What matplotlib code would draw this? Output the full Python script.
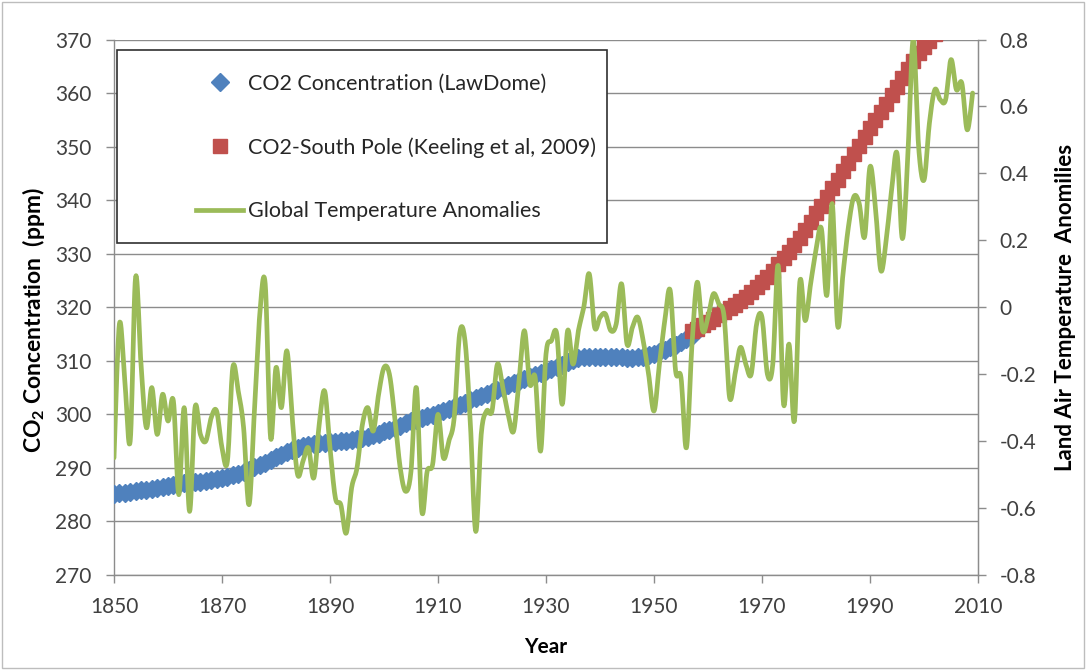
import numpy as np
import matplotlib
matplotlib.use("Agg")
import matplotlib.pyplot as plt
from matplotlib.lines import Line2D
from matplotlib.patches import Rectangle

plt.rcParams["font.family"] = ["Lato", "DejaVu Sans"]
plt.rcParams["mathtext.fontset"] = "custom"
plt.rcParams["mathtext.rm"] = "Lato"
plt.rcParams["mathtext.bf"] = "Lato:bold"

# ---- data ---------------------------------------------------------------
# Law Dome ice-core CO2 (ppm), annual 1850-1957
law_years = list(range(1850, 1958))
law_co2 = [
    285.2, 285.3, 285.4, 285.5, 285.6, 285.8, 285.9, 286.1, 286.3, 286.5,
    286.7, 286.8, 287.0, 287.1, 287.2, 287.3, 287.4, 287.5, 287.7, 287.9,
    288.1, 288.3, 288.6, 288.9, 289.3, 289.7, 290.1, 290.5, 291.0, 291.5,
    292.0, 292.5, 293.0, 293.4, 293.8, 294.1, 294.3, 294.5, 294.6, 294.7,
    294.8, 294.9, 295.0, 295.1, 295.2, 295.4, 295.6, 295.8, 296.1, 296.4,
    296.8, 297.1, 297.5, 297.9, 298.3, 298.7, 299.0, 299.3, 299.6, 299.9,
    300.2, 300.6, 301.0, 301.4, 301.8, 302.2, 302.6, 303.0, 303.4, 303.8,
    304.2, 304.6, 305.0, 305.4, 305.8, 306.2, 306.6, 307.0, 307.4, 307.8,
    308.1, 308.5, 308.9, 309.3, 309.7, 310.1, 310.5, 310.7, 310.8, 310.8,
    310.8, 310.8, 310.7, 310.7, 310.7, 310.6, 310.6, 310.7, 310.8, 311.0,
    311.3, 311.7, 312.1, 312.5, 313.0, 313.5, 314.0, 314.6,
]

# South Pole flask/in-situ CO2 (ppm), annual 1957-2002
sp_years = list(range(1957, 2003))
sp_co2 = [
    315.5, 316.0, 316.6, 317.2, 317.8, 318.5, 319.1, 319.8, 320.4, 321.2,
    322.0, 322.8, 323.8, 324.8, 325.7, 326.7, 328.0, 329.2, 330.4, 331.6,
    333.0, 334.5, 336.0, 337.6, 339.0, 340.6, 342.2, 343.8, 345.4, 347.0,
    348.6, 350.2, 351.8, 353.4, 355.0, 356.5, 358.0, 359.6, 361.2, 362.8,
    364.4, 366.0, 367.4, 368.6, 369.8, 371.0,
]

# Land air temperature anomalies, annual 1850-2009
temp_years = list(range(1850, 2010))
temp_anom = [
    -0.45, -0.05, -0.22, -0.40, 0.09, -0.17, -0.36, -0.24, -0.38, -0.26,
    -0.34, -0.28, -0.56, -0.30, -0.61, -0.30, -0.38, -0.40, -0.33, -0.31,
    -0.42, -0.46, -0.18, -0.25, -0.36, -0.59, -0.31, -0.02, 0.07, -0.39,
    -0.18, -0.30, -0.13, -0.33, -0.50, -0.46, -0.42, -0.51, -0.35, -0.25,
    -0.42, -0.57, -0.59, -0.675, -0.54, -0.48, -0.35, -0.30, -0.37, -0.26,
    -0.18, -0.20, -0.33, -0.48, -0.55, -0.49, -0.24, -0.61, -0.49, -0.47,
    -0.32, -0.45, -0.40, -0.33, -0.08, -0.10, -0.35, -0.67, -0.38, -0.31,
    -0.31, -0.17, -0.24, -0.32, -0.37, -0.22, -0.07, -0.23, -0.21, -0.43,
    -0.14, -0.10, -0.08, -0.29, -0.07, -0.17, -0.07, 0.00, 0.10, -0.06,
    -0.03, -0.02, -0.07, -0.05, 0.07, -0.11, -0.06, -0.03, -0.10, -0.20,
    -0.31, -0.17, -0.04, 0.05, -0.19, -0.21, -0.42, -0.12, 0.075, -0.07,
    -0.03, 0.04, 0.01, -0.03, -0.27, -0.20, -0.12, -0.17, -0.20, -0.05,
    -0.03, -0.20, -0.17, 0.125, -0.29, -0.11, -0.34, 0.075, -0.04, 0.07,
    0.17, 0.235, 0.035, 0.31, -0.055, 0.10, 0.24, 0.33, 0.31, 0.21,
    0.42, 0.30, 0.11, 0.20, 0.35, 0.46, 0.205, 0.45, 0.80, 0.48,
    0.38, 0.55, 0.65, 0.62, 0.62, 0.74, 0.65, 0.67, 0.53, 0.64,
]

co2_ticks = list(range(270, 371, 10))
temp_ticks = [-0.8, -0.6, -0.4, -0.2, 0.0, 0.2, 0.4, 0.6, 0.8]
temp_tick_labels = ["-0.8", "-0.6", "-0.4", "-0.2", "0", "0.2", "0.4", "0.6", "0.8"]
year_ticks = list(range(1850, 2011, 20))

BLUE = "#4F81BD"
RED = "#C0504D"
GREEN = "#9BBB59"
GRID = "#8C8C8C"
TICKTXT = "#404040"


def smooth_curve(x, y, steps=12):
    """Cubic Bezier curve through every point (Catmull-Rom style smoothing)."""
    p = np.column_stack([np.asarray(x, float), np.asarray(y, float)])
    padded = np.vstack([p[0], p, p[-1]])
    out = []
    t = np.linspace(0, 1, steps, endpoint=False)[:, None]
    for i in range(len(p) - 1):
        p0, p1, p2, p3 = padded[i], padded[i + 1], padded[i + 2], padded[i + 3]
        c1 = p1 + (p2 - p0) / 6.0
        c2 = p2 - (p3 - p1) / 6.0
        seg = ((1 - t) ** 3) * p1 + 3 * ((1 - t) ** 2) * t * c1 \
            + 3 * (1 - t) * t ** 2 * c2 + t ** 3 * p2
        out.append(seg)
    out.append(p[-1][None, :])
    arr = np.vstack(out)
    return arr[:, 0], arr[:, 1]


W, H = 1086, 670
fig = plt.figure(figsize=(W / 100, H / 100), dpi=100)
fig.patch.set_facecolor("white")

left, right, top, bottom = 114, 978, 39.5, 575
ax = fig.add_axes([left / W, 1 - bottom / H, (right - left) / W, (bottom - top) / H])

ax.set_xlim(1850, 2010)
ax.set_ylim(270, 370)
ax.set_yticks(co2_ticks)
ax.set_xticks(year_ticks)
ax.grid(axis="y", color=GRID, lw=1.0)
ax.set_axisbelow(True)
ax.spines["top"].set_visible(False)
for side in ("left", "bottom", "right"):
    ax.spines[side].set_color(GRID)
    ax.spines[side].set_linewidth(1.0)

ax.tick_params(axis="both", direction="out", length=5.5, width=1.0,
               color=GRID, labelcolor=TICKTXT, labelsize=15)
ax.tick_params(axis="y", pad=11)
ax.tick_params(axis="x", pad=10)

MS_D = 9
MS_S = 10.5
ax.plot(law_years, law_co2, ls="none", marker="D", ms=MS_D, color=BLUE,
        mec=BLUE, zorder=3)
ax.plot(sp_years, sp_co2, ls="none", marker="s", ms=MS_S, color=RED,
        mec=RED, zorder=3)

ax.set_xlabel("Year", fontsize=15, fontweight="bold", color="black")
ax.xaxis.set_label_coords(0.5, -0.116)
ax.set_ylabel(r"CO$_\mathbf{2}$ Concentration  (ppm)", fontsize=16.5,
              fontweight="bold", color="black")
ax.yaxis.set_label_coords(-0.077, 0.476)

ax2 = ax.twinx()
ax2.set_ylim(-0.8, 0.8)
ax2.set_yticks(temp_ticks)
ax2.set_yticklabels(temp_tick_labels)
for side in ("top", "left", "bottom"):
    ax2.spines[side].set_visible(False)
ax2.spines["right"].set_color(GRID)
ax2.tick_params(axis="y", direction="out", length=5.5, width=1.0, color=GRID,
                labelcolor=TICKTXT, labelsize=15, pad=10)

sx, sy = smooth_curve(temp_years, temp_anom)
ax2.plot(sx, sy, color=GREEN, lw=3.4, solid_capstyle="round",
         solid_joinstyle="round", zorder=4)

ax2.set_ylabel("Land Air Temperature  Anomilies", fontsize=16,
               fontweight="bold", color="black")
ax2.yaxis.set_label_coords(1.089, 0.5)

# legend box with its own frame
frame = Rectangle((117 / W, 1 - 243 / H), (607 - 117) / W, (243 - 50) / H,
                  transform=fig.transFigure, facecolor="white",
                  edgecolor="#303030", lw=1.2, zorder=4)
fig.add_artist(frame)

handles = [
    Line2D([], [], ls="none", marker="D", ms=MS_D, color=BLUE, mec=BLUE),
    Line2D([], [], ls="none", marker="s", ms=MS_S, color=RED, mec=RED),
    Line2D([], [], color=GREEN, lw=3.4),
]
labels = [
    "CO2 Concentration (LawDome)",
    "CO2-South Pole (Keeling et al, 2009)",
    "Global Temperature Anomalies",
]
leg = fig.legend(handles, labels, loc="upper left",
                 bbox_to_anchor=(196 / W, 1 - 73.5 / H), frameon=False,
                 fontsize=15.5, handlelength=2.2, handletextpad=0.2,
                 labelspacing=2.03, borderpad=0, borderaxespad=0)
leg.set_zorder(5)
for txt in leg.get_texts():
    txt.set_color("#262626")

# outer chart border
fig.add_artist(Rectangle((0.002, 0.003), 0.996, 0.994, transform=fig.transFigure,
                         fill=False, edgecolor="#BDBDBD", lw=1.0, zorder=6))

fig.savefig("out.png", dpi=100, facecolor="white")
